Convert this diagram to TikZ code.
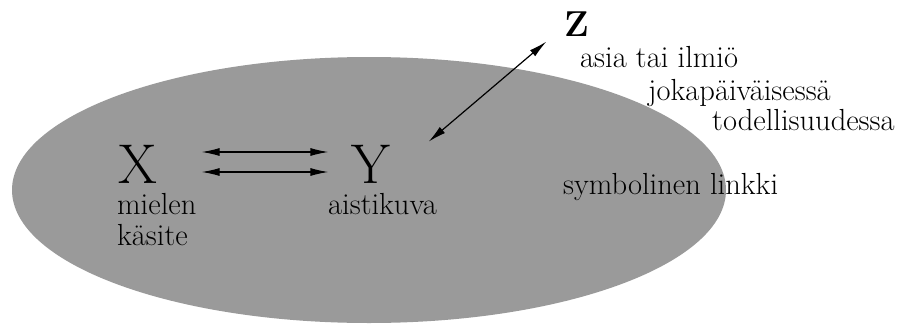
\documentclass[tikz,border=0pt]{standalone}
\definecolor{blobgray}{HTML}{9A9A9A}
\usepackage{tikz}
\usetikzlibrary{arrows.meta, positioning}

\begin{document}
\begin{tikzpicture}[x=1pt,y=-1pt,
    big/.style={inner sep=0pt,font=\fontsize{56}{60}\selectfont},
    lbl/.style={inner sep=0pt,anchor=base west,font=\fontsize{30.5}{32}\selectfont},
    link/.style={{Latex[length=18pt,width=8pt]}-{Latex[length=18pt,width=8pt]},line width=1.2pt}]
    \useasboundingbox (0,0) rectangle (904,324);
    \fill[blobgray] (369,190) ellipse [x radius=357, y radius=133];
    % mieli, aisti ja asia
    \node[big] (X) at (138,164) {X};
    \node[big] (Y) at (371,164) {Y};
    \node[big,font=\fontsize{36}{38}\selectfont\bfseries] (Z) at (577,24) {Z};
    \node[lbl] (mielen) at (117,214) {mielen};
    \node[lbl] (kasite) at ([yshift=-31pt]mielen.base west) {käsite};
    \node[lbl] (aisti) at (328,214) {aistikuva};
    \node[lbl] (asia) at (580,67) {asia tai ilmiö};
    \node[lbl] (joka) at (648,100) {jokapäiväisessä};
    \node[lbl] (todel) at (712,130) {todellisuudessa};
    \node[lbl] (linkki) at (563,194) {symbolinen linkki};
    \draw[link,shorten <=44pt,shorten >=23pt] ([yshift=12pt]X.east) -- ([yshift=12pt]Y.west);
    \draw[link,shorten <=44pt,shorten >=23pt] ([yshift=-8pt]X.east) -- ([yshift=-8pt]Y.west);
    \draw[link] ([xshift=38pt,yshift=3pt]Y.north east) -- ([xshift=-18pt,yshift=-5pt]Z.south west);
\end{tikzpicture}
\end{document}
